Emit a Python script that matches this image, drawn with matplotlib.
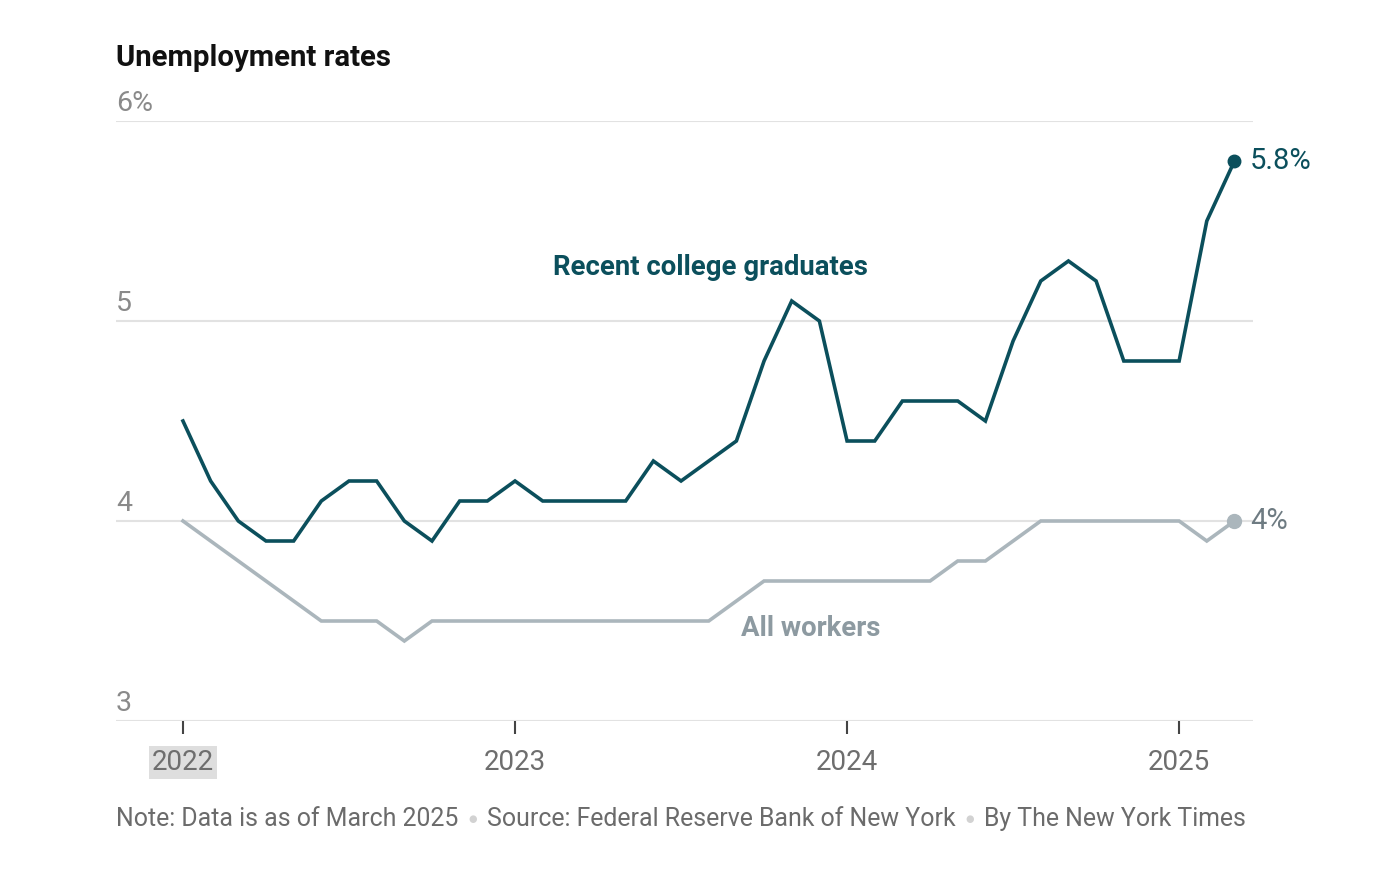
import numpy as np
import matplotlib
matplotlib.use('Agg')
import matplotlib.pyplot as plt

plt.rcParams['font.family'] = ['Roboto', 'DejaVu Sans']

# monthly values, Jan 2022 .. Mar 2025
grads = [4.5, 4.2, 4.0, 3.9, 3.9, 4.1, 4.2, 4.2, 4.0, 3.9, 4.1, 4.1,
         4.2, 4.1, 4.1, 4.1, 4.1, 4.3, 4.2, 4.3, 4.4, 4.8, 5.1, 5.0,
         4.4, 4.4, 4.6, 4.6, 4.6, 4.5, 4.9, 5.2, 5.3, 5.2, 4.8, 4.8,
         4.8, 5.5, 5.8]
all_workers = [4.0, 3.9, 3.8, 3.7, 3.6, 3.5, 3.5, 3.5, 3.4, 3.5, 3.5, 3.5,
               3.5, 3.5, 3.5, 3.5, 3.5, 3.5, 3.5, 3.5, 3.6, 3.7, 3.7, 3.7,
               3.7, 3.7, 3.7, 3.7, 3.8, 3.8, 3.9, 4.0, 4.0, 4.0, 4.0, 4.0,
               4.0, 3.9, 4.0]
years = ['2022', '2023', '2024', '2025']
yticks = [3, 4, 5, 6]
ylabels = ['3', '4', '5', '6%']

teal = '#0b4f5c'
grey_line = '#abb6bc'

t = np.arange(len(grads))

W, H = 1396, 894
fig = plt.figure(figsize=(W / 100, H / 100), dpi=100)
ax = fig.add_axes([116 / W, 1 - 721 / H, (1253 - 116) / W, (721 - 121) / H])
ax.set_xlim(-2.42, 38.67)
ax.set_ylim(3, 6)

for s in ax.spines.values():
    s.set_visible(False)
for y in yticks:
    ax.axhline(y, color='#e2e2e2', lw=1.5, zorder=0)
    ax.text(0, y + 0.022, ylabels[yticks.index(y)], transform=ax.get_yaxis_transform(),
            ha='left', va='bottom', fontsize=20.5, color='#8a8a8a')
ax.set_yticks([])

ax.set_xticks([12 * i for i in range(len(years))])
ax.set_xticklabels(years, fontsize=20, color='#6e6e6e')
ax.tick_params(axis='x', length=9, width=1.5, color='#444444', pad=11)
ax.get_xticklabels()[0].set_bbox(dict(facecolor='#dedede', edgecolor='none', pad=2))

ax.plot(t, all_workers, color=grey_line, lw=2.6, solid_joinstyle='miter', zorder=2)
ax.plot(t, grads, color=teal, lw=2.6, solid_joinstyle='miter', zorder=3)
ax.plot(t[-1], all_workers[-1], 'o', color=grey_line, ms=10, zorder=4, clip_on=False)
ax.plot(t[-1], grads[-1], 'o', color=teal, ms=9, zorder=4, clip_on=False)

ax.annotate('5.8%', (t[-1], grads[-1]), xytext=(11, 0), textcoords='offset points',
            ha='left', va='center', fontsize=21, color=teal)
ax.annotate('4%', (t[-1], all_workers[-1]), xytext=(11, 0), textcoords='offset points',
            ha='left', va='center', fontsize=21, color='#6e7b82')

ax.text(19.05, 5.27, 'Recent college graduates', ha='center', va='center',
        fontsize=19.8, fontweight='bold', color=teal)
ax.text(22.7, 3.46, 'All workers', ha='center', va='center',
        fontsize=19.8, fontweight='bold', color='#8d9aa1')

fig.text(116 / W, 1 - 58 / H, 'Unemployment rates', ha='left', va='center',
         fontsize=21.2, fontweight='bold', color='#111111')

# footnote pieces with light bullets
parts = ['Note: Data is as of March 2025', 'Source: Federal Reserve Bank of New York',
         'By The New York Times']
r = fig.canvas.get_renderer()
x = 116
for i, p in enumerate(parts):
    tx = fig.text(x / W, 1 - 819 / H, p, ha='left', va='center', fontsize=17.9, color='#6b6b6b')
    x += tx.get_window_extent(r).width
    if i < len(parts) - 1:
        b = fig.text((x + 10) / W, 1 - 819 / H, '\u25cf', ha='left', va='center',
                     fontsize=7, color='#d2d2d2')
        x += 10 + b.get_window_extent(r).width + 10

fig.savefig('out.png', dpi=100, facecolor='white')
